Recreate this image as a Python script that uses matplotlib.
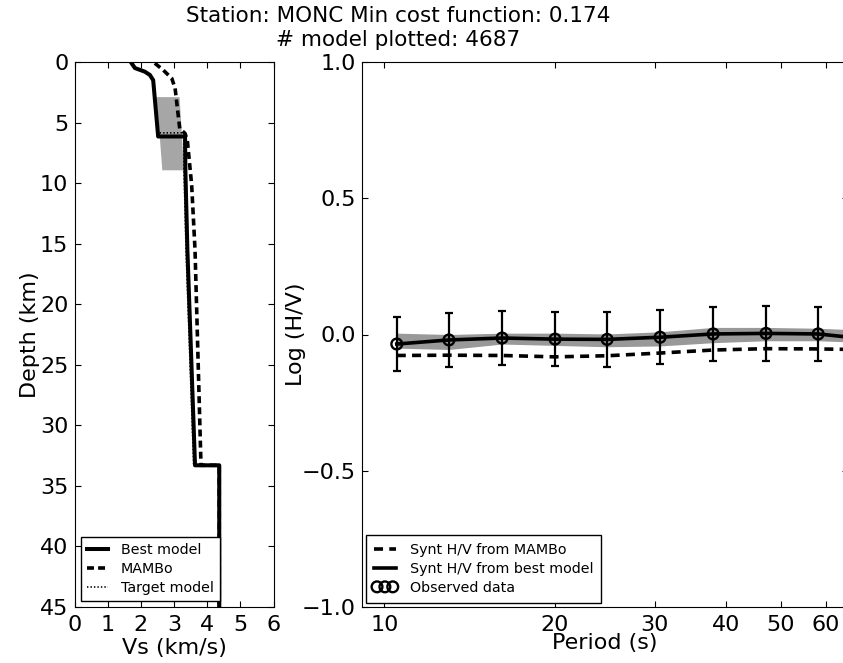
import matplotlib
matplotlib.use("Agg")
import matplotlib.pyplot as plt
from matplotlib.ticker import FixedLocator, NullLocator, ScalarFormatter
from matplotlib.legend_handler import HandlerPathCollection

# velocity profiles (Vs km/s vs depth km)
best_vs = [1.72, 1.82, 2.12, 2.27, 2.37, 2.52, 3.33, 3.34, 3.40, 3.63, 4.36, 4.36]
best_depth = [0.1, 0.5, 0.8, 1.07, 1.5, 6.15, 6.15, 9.0, 15.5, 33.3, 33.3, 45.0]

mambo_vs = [2.42, 2.67, 2.93, 3.03, 3.17, 3.33, 3.40, 3.53, 3.63, 3.81, 4.36, 4.36]
mambo_depth = [0.1, 0.66, 1.35, 2.17, 5.5, 5.9, 6.5, 10.2, 15.5, 33.3, 33.3, 45.0]

target_vs = [1.72, 1.82, 2.12, 2.27, 2.37, 2.51, 3.29, 3.30, 3.36, 3.59, 4.36, 4.36]
target_depth = [0.1, 0.5, 0.8, 1.07, 1.5, 5.85, 5.85, 9.0, 15.5, 33.3, 33.3, 45.0]

# range of plotted models (grey area)
band_depth = [2.86, 6.0, 8.9]
band_vs_min = [2.45, 2.55, 2.63]
band_vs_max = [3.15, 3.22, 3.28]

# H/V curves
period = [10.52, 13.0, 16.13, 20.0, 24.71, 30.64, 38.0, 47.1, 58.2, 72.0]
hv_obs = [-0.035, -0.02, -0.013, -0.017, -0.018, -0.01, 0.002, 0.004, 0.002, -0.018]
hv_err = [0.1, 0.1, 0.1, 0.1, 0.1, 0.1, 0.1, 0.1, 0.1, 0.1]
hv_best = [-0.035, -0.02, -0.013, -0.017, -0.018, -0.01, 0.002, 0.004, 0.002, -0.018]
hv_mambo = [-0.077, -0.076, -0.077, -0.082, -0.078, -0.068, -0.057, -0.052, -0.053, -0.056]
hv_band_top = [0.005, 0.0, 0.005, 0.005, 0.002, 0.01, 0.026, 0.026, 0.023, 0.015]
hv_band_bot = [-0.05, -0.055, -0.035, -0.04, -0.045, -0.042, -0.03, -0.023, -0.023, -0.03]

plt.rcParams['font.size'] = 16
plt.rcParams['xtick.direction'] = 'in'
plt.rcParams['ytick.direction'] = 'in'
plt.rcParams['xtick.top'] = True
plt.rcParams['ytick.right'] = True
plt.rcParams['xtick.major.size'] = 4.5
plt.rcParams['ytick.major.size'] = 4.5
plt.rcParams['xtick.major.pad'] = 6
plt.rcParams['ytick.major.pad'] = 4.5
plt.rcParams['lines.scale_dashes'] = False

W, H = 843, 663
fig = plt.figure(figsize=(W / 100, H / 100), dpi=100)

def box(x0, y0, x1, y1):
    return [x0 / W, 1 - y1 / H, (x1 - x0) / W, (y1 - y0) / H]

leg_opts = dict(loc='lower left', fontsize=10.3, fancybox=False, edgecolor='k', framealpha=1,
                handlelength=1.5, labelspacing=0.35)

# left panel: Vs profile
ax1 = fig.add_axes(box(74.5, 62, 273.7, 607))
ax1.fill_betweenx(band_depth, band_vs_min, band_vs_max, color='0.65', lw=0, zorder=1)
ax1.plot(best_vs, best_depth, color='k', lw=2.9, label='Best model', zorder=3)
ax1.plot(mambo_vs, mambo_depth, color='k', lw=2.6, dashes=(5, 3), label='MAMBo', zorder=2)
ax1.plot(target_vs, target_depth, color='k', lw=1.2, dashes=(1, 1.5), label='Target model', zorder=4)
ax1.set_xlim(0, 6)
ax1.set_ylim(45, 0)
ax1.set_xticks(range(0, 7))
ax1.set_yticks(range(0, 50, 5))
ax1.set_xlabel('Vs (km/s)', labelpad=2)
ax1.set_ylabel('Depth (km)', labelpad=0)
ax1.legend(handletextpad=0.9, borderaxespad=0.45, borderpad=0.4, **leg_opts)

# right panel: H/V
ax2 = fig.add_axes(box(362, 62, 848, 607))
ax2.fill_between(period, hv_band_bot, hv_band_top, color='0.6', lw=0, zorder=1)
ax2.plot(period, hv_mambo, color='k', lw=2.6, dashes=(6.5, 4.5), label='Synt H/V from MAMBo', zorder=2)
ax2.plot(period, hv_best, color='k', lw=2.6, label='Synt H/V from best model', zorder=3)
ax2.errorbar(period, hv_obs, yerr=hv_err, fmt='none', ecolor='k', elinewidth=1.6,
             capsize=3, capthick=1.6, zorder=4)
obs = ax2.scatter(period, hv_obs, s=60, facecolors='none', edgecolors='k', linewidths=1.7,
                  label='Observed data', zorder=5)
ax2.set_xscale('log')
ax2.set_xlim(9.135, 65.7)
ax2.set_ylim(-1.0, 1.0)
ax2.xaxis.set_major_locator(FixedLocator([10, 20, 30, 40, 50, 60]))
ax2.xaxis.set_major_formatter(ScalarFormatter())
ax2.xaxis.set_minor_locator(NullLocator())
ax2.set_yticks([-1.0, -0.5, 0.0, 0.5, 1.0])
ax2.set_xlabel('Period (s)', labelpad=-2)
ax2.set_ylabel('Log (H/V)', labelpad=-3)
ax2.legend(scatterpoints=3, scatteryoffsets=[0.5],
           handler_map={obs: HandlerPathCollection(marker_pad=0.2)},
           handletextpad=1.0, borderaxespad=0.3, borderpad=0.55, **leg_opts)

fig.text(398 / W, 1 - 28 / H, 'Station: MONC Min cost function: 0.174\n# model plotted: 4687',
         ha='center', va='center', fontsize=15.5, linespacing=1.25)

fig.savefig('out.png', dpi=100)
